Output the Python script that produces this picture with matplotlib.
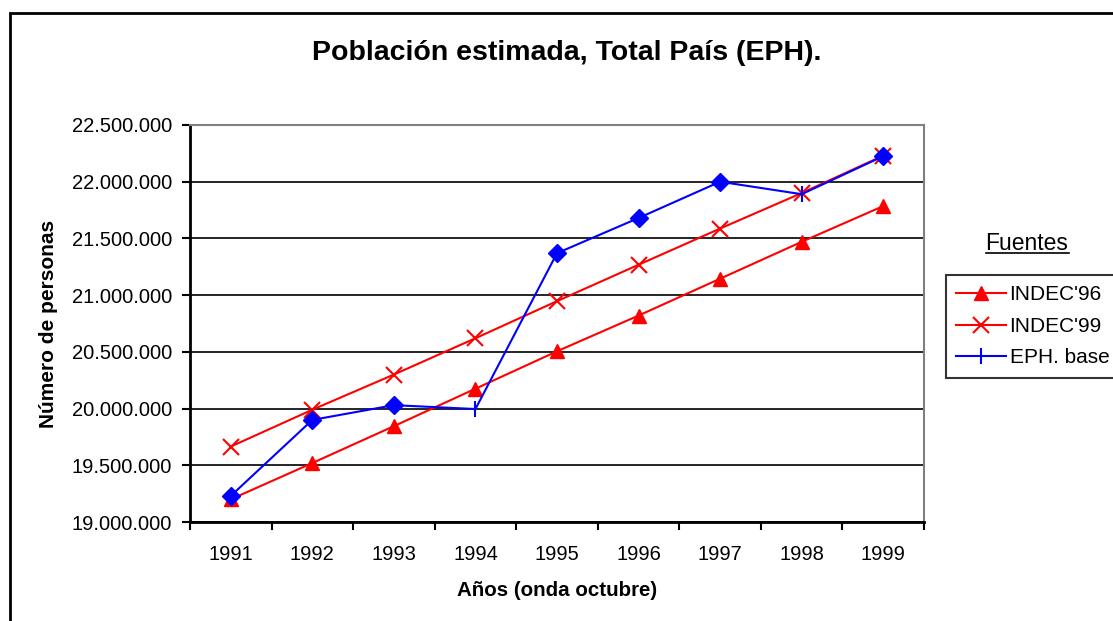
import matplotlib
matplotlib.use("Agg")
import matplotlib.pyplot as plt
from matplotlib.lines import Line2D
from matplotlib.patches import Rectangle
from matplotlib.ticker import FuncFormatter, FixedLocator

plt.rcParams['font.family'] = ['Liberation Sans', 'DejaVu Sans']

# data (values in persons)
years = ['1991', '1992', '1993', '1994', '1995', '1996', '1997', '1998', '1999']
indec96 = [19200000, 19520000, 19845000, 20175000, 20505000, 20820000, 21145000, 21470000, 21785000]
indec99 = [19665000, 19990000, 20300000, 20620000, 20947000, 21268000, 21587000, 21900000, 22230000]
eph_base = [19230000, 19900000, 20030000, 19996000, 21370000, 21680000, 22000000, 21890000, 22225000]
eph_diamond = [True, True, True, False, True, True, True, False, True]

fig = plt.figure(figsize=(11.13, 6.21), dpi=100)
ax = fig.add_axes([190 / 1113, 1 - 522 / 621, 734 / 1113, 397 / 621])

x = list(range(len(years)))

ax.plot(x, indec96, color='#ff0000', lw=1.5, marker='^', ms=10, mec='#ff0000', mfc='#ff0000', zorder=3)
ax.plot(x, indec99, color='#ff0000', lw=1.5, marker='x', ms=11, mew=1.5, zorder=3)
ax.plot(x, eph_base, color='#0000ff', lw=1.5, zorder=4)
xd = [xi for xi, d in zip(x, eph_diamond) if d]
yd = [yi for yi, d in zip(eph_base, eph_diamond) if d]
xb = [xi for xi, d in zip(x, eph_diamond) if not d]
yb = [yi for yi, d in zip(eph_base, eph_diamond) if not d]
ax.plot(xd, yd, ls='none', marker='D', ms=9, color='#0000ff', zorder=5)
ax.plot(xb, yb, ls='none', marker='|', ms=12, mew=1.5, color='#0000ff', zorder=5)

ax.set_xlim(-0.5, 8.5)
ax.set_ylim(19000000, 22500000)
ax.set_yticks(range(19000000, 22500001, 500000))
ax.yaxis.set_major_formatter(FuncFormatter(lambda v, p: f"{int(v):,}".replace(',', '.')))
ax.grid(axis='y', color='black', lw=1.2)
ax.set_axisbelow(True)

ax.set_xticks(x)
ax.set_xticklabels(years)
ax.xaxis.set_minor_locator(FixedLocator([i - 0.5 for i in range(len(years) + 1)]))
ax.tick_params(axis='x', which='major', length=0, pad=16.5, labelsize=14.5)
ax.tick_params(axis='x', which='minor', length=6, width=1.5, direction='out')
ax.tick_params(axis='y', length=6, width=1.5, direction='out', pad=7, labelsize=14.5)

for side in ['left', 'bottom']:
    ax.spines[side].set_linewidth(2)
    ax.spines[side].set_color('black')
for side in ['top', 'right']:
    ax.spines[side].set_linewidth(1.5)
    ax.spines[side].set_color('#808080')

ax.set_xlabel('Años (onda octubre)', fontsize=14.8, fontweight='bold', labelpad=12)
ax.set_ylabel('Número de personas', fontsize=15, fontweight='bold', labelpad=10)

fig.text(567 / 1113, 1 - 53 / 621, 'Población estimada, Total País (EPH).',
         ha='center', va='center', fontsize=20.5, fontweight='bold')

# outer chart frame
fig.add_artist(Rectangle((10 / 1113, -0.05), 1.1, 1 - 13 / 621 + 0.05, transform=fig.transFigure,
                         fill=False, edgecolor='black', lw=2, clip_on=False))

# legend
handles = [
    Line2D([], [], color='#ff0000', lw=1.5, marker='^', ms=10),
    Line2D([], [], color='#ff0000', lw=1.5, marker='x', ms=11, mew=1.5),
    Line2D([], [], color='#0000ff', lw=1.5, marker='|', ms=12, mew=1.5),
]
leg = fig.legend(handles, ["INDEC'96", "INDEC'99", 'EPH. base'], loc='upper left',
                 bbox_to_anchor=(946 / 1113, 1 - 275 / 621), fontsize=15, frameon=True,
                 fancybox=False, edgecolor='black', borderaxespad=0, handlelength=2.4,
                 handletextpad=0.15, labelspacing=0.6, borderpad=0.5)
leg.get_frame().set_linewidth(1.5)

fig.text(1027 / 1113, 1 - 243 / 621, 'Fuentes', ha='center', va='center', fontsize=16.5)
fig.add_artist(Line2D([986 / 1113, 1069 / 1113], [1 - 253 / 621, 1 - 253 / 621],
                      transform=fig.transFigure, color='black', lw=1.2))

fig.savefig('out.png', dpi=100)
